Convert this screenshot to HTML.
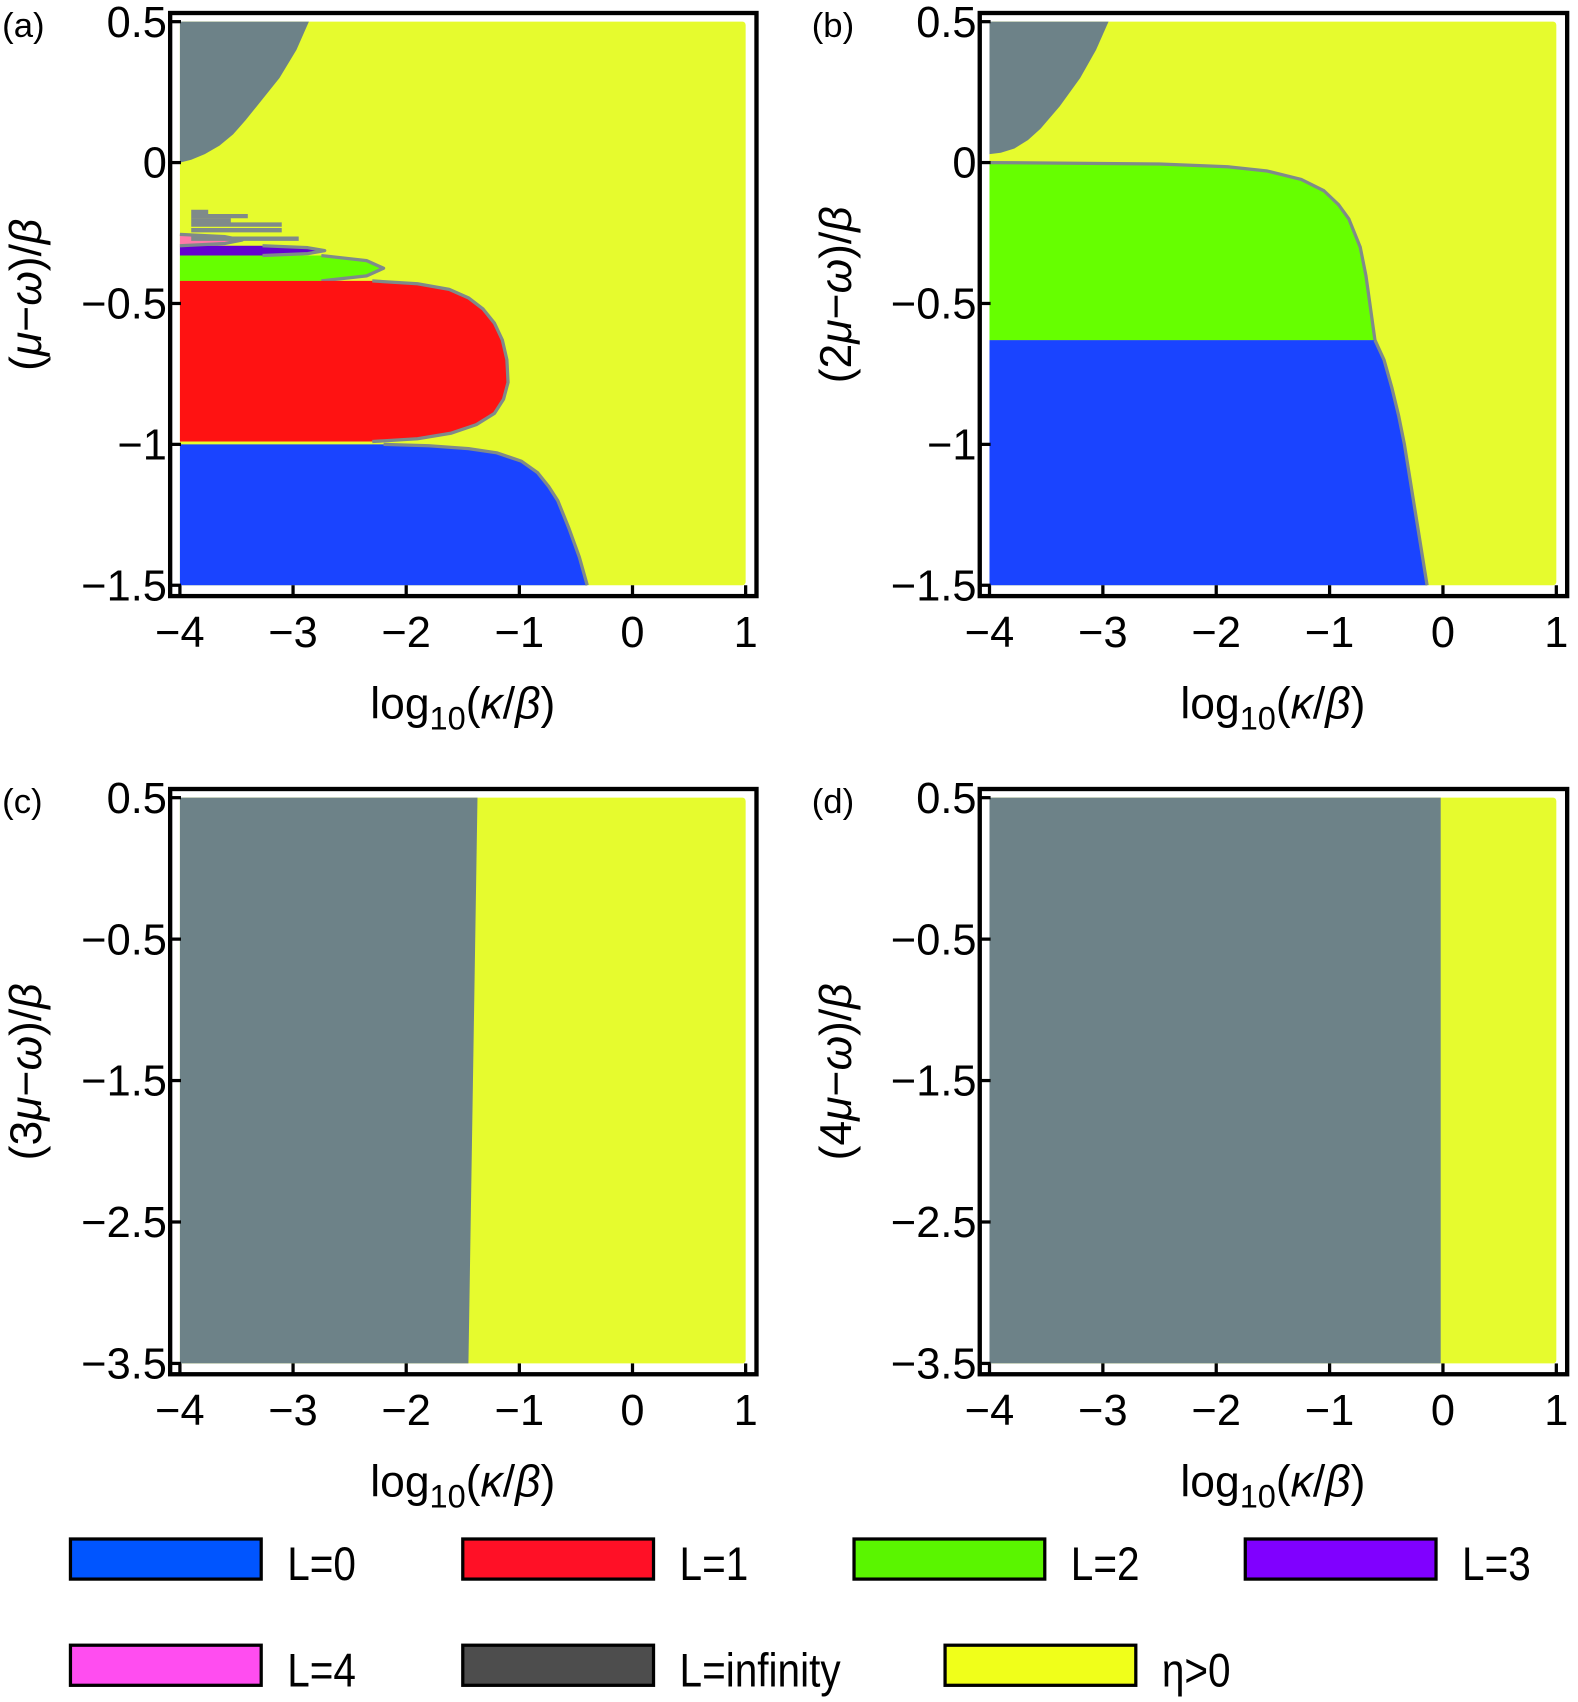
<!DOCTYPE html>
<html><head><meta charset="utf-8"><style>
html,body{margin:0;padding:0;background:#fff;}
svg{display:block;}
text{font-family:"Liberation Sans",sans-serif;fill:#000;}
</style></head><body>
<svg id="fig" width="1578" height="1702" viewBox="0 0 1456 1570.4" preserveAspectRatio="none" xmlns="http://www.w3.org/2000/svg"></svg>
<script>
// ---- data (y value, x boundary in log10 units) ----
const aGrayY=[0,0.01,0.03,0.06,0.1,0.15,0.2,0.3,0.4,0.5];
const aGrayX=[-4,-3.9,-3.78,-3.65,-3.53,-3.42,-3.32,-3.12,-2.97,-2.86];
const aRedY=[-0.42,-0.43,-0.45,-0.48,-0.52,-0.57,-0.63,-0.7,-0.78,-0.84,-0.89,-0.93,-0.96,-0.98,-0.99];
const aRedX=[-2.3,-1.9,-1.62,-1.45,-1.32,-1.22,-1.15,-1.11,-1.1,-1.14,-1.22,-1.38,-1.6,-1.9,-2.3];
const aBlueY=[-1.0,-1.005,-1.015,-1.03,-1.06,-1.1,-1.15,-1.2,-1.3,-1.4,-1.5];
const aBlueX=[-2.2,-1.8,-1.45,-1.2,-0.98,-0.84,-0.74,-0.66,-0.56,-0.47,-0.4];
const aStripY=[[-0.33,-0.42],[-0.295,-0.33],[-0.255,-0.295]];
const aStripX=[-2.2,-2.72,-3.45];
const aGrayStripY=[-0.175,-0.19,-0.205,-0.22,-0.24,-0.27];
const aGrayStripX=[-3.75,-3.4,-3.55,-3.1,-3.1,-2.95];
const bGrayY=[0.03,0.035,0.05,0.08,0.12,0.2,0.3,0.4,0.5];
const bGrayX=[-4,-3.9,-3.78,-3.66,-3.55,-3.38,-3.2,-3.06,-2.95];
const bGreenY=[0,-0.005,-0.015,-0.03,-0.06,-0.1,-0.15,-0.2,-0.3,-0.4,-0.5,-0.63];
const bGreenX=[-4,-2.5,-1.9,-1.55,-1.25,-1.05,-0.92,-0.83,-0.73,-0.68,-0.645,-0.6];
const bBlueY=[-0.63,-0.7,-0.8,-0.9,-1.0,-1.1,-1.2,-1.3,-1.4,-1.5];
const bBlueX=[-0.6,-0.52,-0.45,-0.39,-0.34,-0.3,-0.26,-0.22,-0.18,-0.14];
const cGrayY=[0.5,-3.5];
const cGrayX=[-1.37,-1.45];
const dGrayY=[0.5,-3.5];
const dGrayX=[-0.02,-0.02];
const xTicks=[-4,-3,-2,-1,0,1];
const yTicksAB=[0.5,0,-0.5,-1,-1.5];
const yTicksCD=[0.5,-0.5,-1.5,-2.5,-3.5];
const legendLabels=["L=0","L=1","L=2","L=3","L=4","L=infinity","η>0"];
const legendColors=["#0055ff","#ff1026","#5af500","#8000ff","#ff4df0","#4d4d4d","#f0ff1a"];

const YEL="#e6fb2e",GRY="#6d8288",RED="#ff1212",BLU="#1a44ff",GRN="#66ff00",PUR="#6400d0",PNK="#ff7aa8",OUT="#7f8a8a";
const NS="http://www.w3.org/2000/svg";
const svg=document.getElementById('fig');
function el(tag,attrs,parent){const e=document.createElementNS(NS,tag);for(const k in attrs)e.setAttribute(k,attrs[k]);(parent||svg).appendChild(e);return e;}

function panel(id,px0,px1,py0,py1,ymin,ymax,yTicks,ylabel){
  const g=el('g',{});
  
  
  const sx=v=>px0+(v+4)/5*(px1-px0);
  const sy=v=>py0+(ymax-v)/(ymax-ymin)*(py1-py0);
  const r=el('rect',{x:sx(-4),y:sy(ymax),width:sx(1)-sx(-4),height:sy(ymin)-sy(ymax),fill:YEL,rx:3},g);
  
  
  return {g,sx,sy,finish(){
    const f=el('rect',{x:px0-9,y:py0-8,width:px1-px0+19,height:py1-py0+18,fill:'none',stroke:'#000','stroke-width':4},g);
    
    
    xTicks.forEach(t=>{
      el('line',{x1:sx(t),x2:sx(t),y1:py1+10,y2:py1,stroke:'#000','stroke-width':3},g);
      const tx=el('text',{x:sx(t),y:py1+57,'font-size':40,'text-anchor':'middle'},g);
      tx.textContent=(t<0?'\u2212'+(-t):String(t));
      
      
    });
    yTicks.forEach(t=>{
      el('line',{x1:px0-9,x2:px0+1,y1:sy(t),y2:sy(t),stroke:'#000','stroke-width':3},g);
      const tx=el('text',{x:px0-12,y:sy(t)+14,'font-size':40,'text-anchor':'end'},g);
      tx.textContent=(t<0?'\u2212'+String(-t):String(t));
      
      
    });
    const xt=el('text',{x:(px0+px1)/2,y:py1+123,'font-size':41,'text-anchor':'middle'},g);
    xt.innerHTML='log<tspan font-size="30" dy="10">10</tspan><tspan dy="-10">(</tspan><tspan font-style="italic">κ</tspan>/<tspan font-style="italic">β</tspan>)';
    
    
    const yt=el('text',{x:0,y:0,'font-size':41,'text-anchor':'middle',transform:`translate(${px0-128},${(py0+py1)/2-8}) rotate(-90)`},g);
    yt.innerHTML=ylabel;
    
    
    const lb=el('text',{x:px0-164,y:py0+14,'font-size':32},g);
    lb.textContent='('+id+')';
    
    
  }};
}
function leftRegion(P,ys,xs,fill,name,stroke){
  let d=`M${P.sx(-4)},${P.sy(ys[0])}`;
  for(let i=0;i<ys.length;i++)d+=`L${P.sx(xs[i])},${P.sy(ys[i])}`;
  d+=`L${P.sx(-4)},${P.sy(ys[ys.length-1])}Z`;
  const p=el('path',{d,fill,'stroke-linejoin':'round'},P.g);
  
  
  if(stroke){let s='';for(let i=0;i<ys.length;i++)s+=(i?'L':'M')+P.sx(xs[i])+','+P.sy(ys[i]);
    el('path',{d:s,fill:'none',stroke:OUT,'stroke-width':3,'stroke-linejoin':'round'},P.g);}
  return p;
}

// panel a
const A=panel('a',166,688,20,540,-1.5,0.5,yTicksAB,'(<tspan font-style="italic">μ</tspan>−<tspan font-style="italic">ω</tspan>)/<tspan font-style="italic">β</tspan>');
leftRegion(A,[0.5].concat(aGrayY.slice().reverse()),[-2.86].concat(aGrayX.slice().reverse()),GRY,'l-infinity-region');
const stripFills=[GRN,PUR,PNK];
aStripY.forEach((yy,i)=>{
  const tip=aStripX[i],ym=(yy[0]+yy[1])/2;
  leftRegion(A,[yy[0],yy[0]-(yy[0]-ym)*0.4,ym,yy[1]+(ym-yy[1])*0.4,yy[1]],[tip-0.55,tip-0.15,tip,tip-0.15,tip-0.55],stripFills[i],'strip-l'+(i+2),true);
});
aGrayStripY.forEach((y,i)=>{
  const l=el('line',{x1:A.sx(-3.9),x2:A.sx(aGrayStripX[i]),y1:A.sy(y),y2:A.sy(y),stroke:OUT,'stroke-width':4},A.g);
  
  
});
leftRegion(A,aRedY,aRedX,RED,'l1-region',true);
leftRegion(A,aBlueY,aBlueX,BLU,'l0-region',true);
A.finish();

// panel b
const B=panel('b',913,1436,20,540,-1.5,0.5,yTicksAB,'(2<tspan font-style="italic">μ</tspan>−<tspan font-style="italic">ω</tspan>)/<tspan font-style="italic">β</tspan>');
leftRegion(B,[0.5].concat(bGrayY.slice().reverse()),[-2.95].concat(bGrayX.slice().reverse()),GRY,'l-infinity-region');
leftRegion(B,bGreenY,bGreenX,GRN,'l2-region',true);
leftRegion(B,bBlueY,bBlueX,BLU,'l0-region',true);
B.finish();

// panel c
const C=panel('c',166,688,736,1258,-3.5,0.5,yTicksCD,'(3<tspan font-style="italic">μ</tspan>−<tspan font-style="italic">ω</tspan>)/<tspan font-style="italic">β</tspan>');
leftRegion(C,cGrayY,cGrayX,GRY,'l-infinity-region');
C.finish();
// panel d
const D=panel('d',913,1436,736,1258,-3.5,0.5,yTicksCD,'(4<tspan font-style="italic">μ</tspan>−<tspan font-style="italic">ω</tspan>)/<tspan font-style="italic">β</tspan>');
leftRegion(D,dGrayY,dGrayX,GRY,'l-infinity-region');
D.finish();

// legend
const lx=[65,427,788,1149,65,427,872],ly=[1420,1420,1420,1420,1518,1518,1518];
const lg=el('g',{});


legendLabels.forEach((lab,i)=>{
  const r=el('rect',{x:lx[i],y:ly[i],width:176,height:37,fill:legendColors[i],stroke:'#000','stroke-width':3},lg);
  
  
  const tx=lx[i]+200;
  const t=el('text',{x:0,y:0,'font-size':44,transform:`translate(${tx},${ly[i]+38}) scale(0.85,1)`},lg);
  t.textContent=lab;
  
  
});
</script>
</body></html>
